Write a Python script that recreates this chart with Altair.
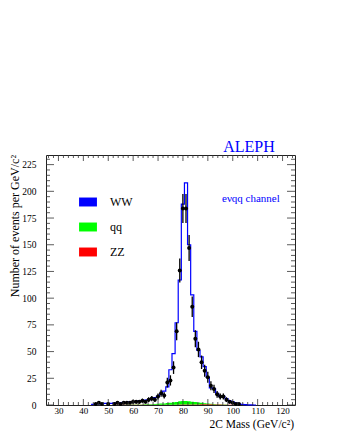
import altair as alt
import pandas as pd
import numpy as np

# ---------------- data ----------------
BIN_WIDTH = 1.25          # GeV
FIRST_EDGE = 43.1         # GeV, lower edge of first bin

# MC total (WW + qq + ZZ), events per GeV
mc_total = [0.5, 1, 1, 1, 1.5, 1.5, 1.5, 2, 2, 2,
            2.5, 2.5, 3, 3, 3.5, 4, 4, 4.5, 5, 6,
            7, 8, 10, 13, 17, 33, 48, 77, 117, 188,
            208, 150, 103, 69, 51, 45, 36, 26, 16, 15,
            11, 8, 8, 6, 4, 3, 2, 1, 0.5, 0.3,
            0.2, 0.1, 0]

# qq background
mc_qq = [0, 0, 0, 0, 0, 0, 0, 0, 0, 0,
         0, 0.1, 0.1, 0.1, 0.2, 0.2, 0.2, 0.3, 0.4, 0.5,
         0.6, 0.8, 1.0, 1.2, 1.5, 1.8, 2.2, 2.6, 3.0, 3.3,
         3.3, 3.0, 2.6, 2.2, 1.8, 1.4, 1.1, 0.9, 0.6, 0.4,
         0.3, 0.2, 0.1, 0.1, 0, 0, 0, 0, 0, 0,
         0, 0, 0]

# ZZ background
mc_zz = [0, 0, 0, 0, 0, 0, 0, 0.2, 0.2, 0.3,
         0.3, 0.3, 0.3, 0.3, 0.3, 0.3, 0.3, 0.3, 0.3, 0.3,
         0.3, 0.3, 0.3, 0.3, 0.3, 0.3, 0.3, 0.3, 0.4, 0.4,
         0.4, 0.4, 0.5, 0.5, 0.5, 0.6, 0.6, 0.6, 0.6, 0.5,
         0.4, 0.4, 0.3, 0.3, 0.3, 0.2, 0.2, 0.1, 0, 0,
         0, 0, 0]

# data (events per GeV)
data_counts = [0, 1, 2, 1, 0, 1, 0, 1, 2, 1,
               2, 2, 2, 3, 3, 3, 4, 3, 5, 6,
               5, 8, 11, 9, 21, 23, 35, 69, 126, 184,
               184, 147, 92, 62, 52, 40, 32, 26, 18, 15,
               10, 8, 8, 5, 3, 2, 1, 1, 0, 0,
               0, 0, 0]

processes = ["WW", "qq", "ZZ"]
process_colors = ["#0000ff", "#00ff00", "#ff0000"]

x_labels = [30, 40, 50, 60, 70, 80, 90, 100, 110, 120]
y_labels = [0, 25, 50, 75, 100, 125, 150, 175, 200, 225]

X_DOMAIN = [25, 125]
Y_DOMAIN = [0, 234]

# ---------------- tables ----------------
n = len(mc_total)
edges = [FIRST_EDGE + BIN_WIDTH * i for i in range(n + 1)]
centers = [e + BIN_WIDTH / 2 for e in edges[:-1]]

df_mc = pd.DataFrame({"mass": edges, "val": mc_total + [mc_total[-1]]})

rows = []
for i in range(n + 1):
    j = min(i, n - 1)
    rows.append({"mass": edges[i], "process": "ZZ", "val": mc_zz[j], "o": 0})
    rows.append({"mass": edges[i], "process": "qq", "val": mc_qq[j], "o": 1})
df_bkg = pd.DataFrame(rows)

df_data = pd.DataFrame({"mass": centers, "n": data_counts})
df_data = df_data[df_data["n"] > 0].copy()
df_data["lo"] = df_data["n"] - np.sqrt(df_data["n"])
df_data["hi"] = df_data["n"] + np.sqrt(df_data["n"])

yt = pd.DataFrame({"v": list(range(0, 235, 5))})
yt["major"] = yt["v"] % 25 == 0
xt = pd.DataFrame({"v": list(range(26, 125, 2))})
xt["major"] = xt["v"] % 10 == 0

W, H = 249, 250
FONT = "Liberation Serif"

xs = alt.Scale(domain=X_DOMAIN, nice=False, zero=False)
ys = alt.Scale(domain=Y_DOMAIN, nice=False, zero=True)

x_axis = alt.Axis(values=x_labels, ticks=False, domain=False, grid=False,
                  labelFont=FONT, labelFontSize=9, labelColor="#000",
                  labelPadding=1, labelOverlap=False, labelFlush=False,
                  title=None)
y_axis = alt.Axis(values=y_labels, ticks=False, domain=False, grid=False,
                  labelFont=FONT, labelFontSize=9.5, labelColor="#000",
                  labelPadding=10, labelOverlap=False, labelFlush=False,
                  title=None)


def X(field):
    return alt.X(field, scale=xs, axis=x_axis)


def Y(field, **kw):
    return alt.Y(field, scale=ys, axis=y_axis, **kw)


bkg = alt.Chart(df_bkg).mark_area(interpolate="step-after", opacity=1).encode(
    x=X("mass:Q"),
    y=Y("val:Q", stack="zero"),
    order=alt.Order("o:Q"),
    color=alt.Color("process:N",
                    scale=alt.Scale(domain=processes, range=process_colors),
                    legend=alt.Legend(orient="none", legendX=33, legendY=38,
                                      title=None, padding=0,
                                      symbolType="M-1,-0.5H1V0.5H-1Z",
                                      symbolSize=320, symbolStrokeWidth=0,
                                      symbolOpacity=1,
                                      labelFont=FONT, labelFontSize=12,
                                      labelColor="#000", labelOffset=13,
                                      rowPadding=10)),
)

mc_line = alt.Chart(df_mc).mark_line(interpolate="step-after", color="#0000ff",
                                     strokeWidth=1.2).encode(
    x=X("mass:Q"),
    y=Y("val:Q"),
)

err = alt.Chart(df_data).mark_rule(color="#000", strokeWidth=1.3).encode(
    x=X("mass:Q"),
    y=Y("lo:Q"),
    y2="hi:Q",
)
pts = alt.Chart(df_data).mark_circle(color="#000", size=16, opacity=1).encode(
    x=X("mass:Q"),
    y=Y("n:Q"),
)


def yticks(major, x0, x1):
    return alt.Chart(yt[yt["major"] == major]).mark_rule(color="#333", strokeWidth=0.8).encode(
        y=Y("v:Q"), x=alt.value(x0), x2=alt.value(x1))


def xticks(major, y0, y1):
    return alt.Chart(xt[xt["major"] == major]).mark_rule(color="#333", strokeWidth=0.8).encode(
        x=X("v:Q"), y=alt.value(y0), y2=alt.value(y1))


ticks = [
    yticks(True, 0, 8), yticks(False, 0, 4),
    yticks(True, W, W - 8), yticks(False, W, W - 4),
    xticks(True, H, H - 6), xticks(False, H, H - 3),
    xticks(True, 0, 6), xticks(False, 0, 3),
]

txt = pd.DataFrame({"k": [0]})
ytitle = alt.Chart(txt).mark_text(text="Number of events per GeV/c²", font=FONT,
                                  fontSize=12, angle=270, align="right",
                                  baseline="middle", color="#000").encode(
    x=alt.value(-31), y=alt.value(0))
xtitle = alt.Chart(txt).mark_text(text="2C Mass (GeV/c²)", font=FONT, fontSize=11.5,
                                  align="right", baseline="alphabetic",
                                  color="#000").encode(
    x=alt.value(W - 1), y=alt.value(H + 23))
aleph = alt.Chart(txt).mark_text(text="ALEPH", font=FONT, fontSize=16,
                                 align="center", baseline="alphabetic",
                                 color="#0000ff").encode(
    x=alt.value(203), y=alt.value(-3))
chan = alt.Chart(txt).mark_text(text="eνqq channel", font=FONT, fontSize=11,
                                align="left", baseline="alphabetic",
                                color="#0000ff").encode(
    x=alt.value(176), y=alt.value(47))

chart = alt.layer(bkg, mc_line, err, pts, *ticks, ytitle, xtitle, aleph, chan).properties(
    width=W, height=H, autosize="none",
    padding={"left": 38, "top": 147, "right": 34, "bottom": 28},
).configure_view(stroke="#222", strokeWidth=1)

chart.save("out.html", embed_options={"renderer": "svg", "actions": False})
